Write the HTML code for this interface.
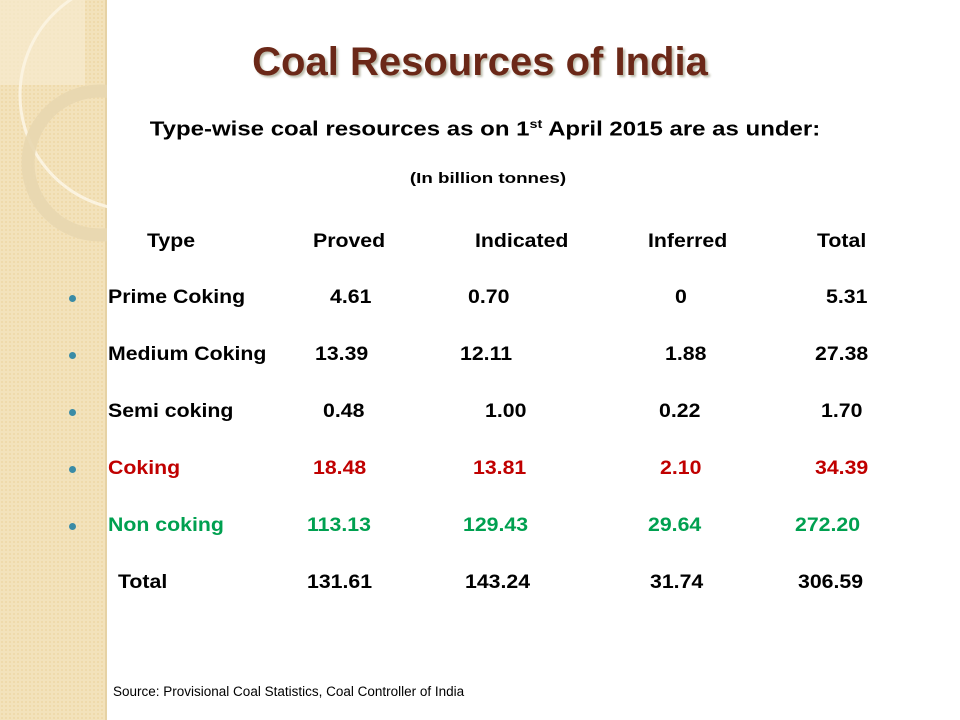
<!DOCTYPE html>
<html><head><meta charset="utf-8">
<style>
body{margin:0;width:960px;height:720px;overflow:hidden;background:#fff;font-family:"Liberation Sans",Arial,sans-serif;position:relative}
.band{position:absolute;left:0;top:0;width:105px;height:720px;background:#f3e2bb;
background-image:radial-gradient(#efd9aa 1px,transparent 1.2px);background-size:4px 4px;border-right:2px solid #e6d2a4}
.t{position:absolute;font-weight:bold;font-size:19px;color:#000;white-space:nowrap;line-height:20px;transform:scaleX(1.12);transform-origin:left center}
.r{color:#c00000}.g{color:#00a050}
.bul{position:absolute;left:69px;width:7px;height:7px;border-radius:50%;background:#3a8ba6}
</style></head><body>
<div class="band"></div>
<svg style="position:absolute;left:0;top:0" width="107" height="720">
<rect x="0" y="0" width="85" height="85" fill="#f7ebce" opacity="0.7"/>
<circle cx="135" cy="95" r="115" fill="none" stroke="#fbf3e0" stroke-width="3"/>
<circle cx="100" cy="163" r="72" fill="none" stroke="#e8d7b0" stroke-width="13" opacity="0.9"/>
</svg>
<div style="position:absolute;left:0;width:960px;top:40px;text-align:center;font-size:40px;font-weight:bold;color:#6b2818;text-shadow:2px 2px 2px #bba;">Coal Resources of India</div>
<div style="position:absolute;left:0;width:970px;top:117px;text-align:center;font-size:20px;font-weight:bold;transform:scaleX(1.2);transform-origin:485px 0">Type-wise coal resources as on 1<sup style="font-size:12px">st</sup> April 2015 are as under:</div>
<div style="position:absolute;left:0;width:976px;top:170px;text-align:center;font-size:15px;font-weight:bold;transform:scaleX(1.25);transform-origin:488px 0">(In billion tonnes)</div>

<div>
<div class="t" style="left:147px;top:232px">Type</div>
<div class="t" style="left:313px;top:232px">Proved</div>
<div class="t" style="left:475px;top:232px">Indicated</div>
<div class="t" style="left:648px;top:232px">Inferred</div>
<div class="t" style="left:817px;top:232px">Total</div>
</div>

<div>
<div class="bul" style="top:295px"></div>
<div class="t" style="left:108px;top:288px">Prime Coking</div>
<div class="t" style="left:330px;top:288px">4.61</div>
<div class="t" style="left:468px;top:288px">0.70</div>
<div class="t" style="left:675px;top:288px">0</div>
<div class="t" style="left:826px;top:288px">5.31</div>
</div>
<div>
<div class="bul" style="top:352px"></div>
<div class="t" style="left:108px;top:345px">Medium Coking</div>
<div class="t" style="left:315px;top:345px">13.39</div>
<div class="t" style="left:460px;top:345px">12.11</div>
<div class="t" style="left:665px;top:345px">1.88</div>
<div class="t" style="left:815px;top:345px">27.38</div>
</div>
<div>
<div class="bul" style="top:409px"></div>
<div class="t" style="left:108px;top:402px">Semi coking</div>
<div class="t" style="left:323px;top:402px">0.48</div>
<div class="t" style="left:485px;top:402px">1.00</div>
<div class="t" style="left:659px;top:402px">0.22</div>
<div class="t" style="left:821px;top:402px">1.70</div>
</div>
<div>
<div class="bul" style="top:466px"></div>
<div class="t r" style="left:108px;top:459px">Coking</div>
<div class="t r" style="left:313px;top:459px">18.48</div>
<div class="t r" style="left:473px;top:459px">13.81</div>
<div class="t r" style="left:660px;top:459px">2.10</div>
<div class="t r" style="left:815px;top:459px">34.39</div>
</div>
<div>
<div class="bul" style="top:523px"></div>
<div class="t g" style="left:108px;top:516px">Non coking</div>
<div class="t g" style="left:307px;top:516px">113.13</div>
<div class="t g" style="left:463px;top:516px">129.43</div>
<div class="t g" style="left:648px;top:516px">29.64</div>
<div class="t g" style="left:795px;top:516px">272.20</div>
</div>
<div>
<div class="t" style="left:118px;top:573px">Total</div>
<div class="t" style="left:307px;top:573px">131.61</div>
<div class="t" style="left:465px;top:573px">143.24</div>
<div class="t" style="left:650px;top:573px">31.74</div>
<div class="t" style="left:798px;top:573px">306.59</div>
</div>

<div style="position:absolute;left:113px;top:684px;font-size:13.5px;font-family:'Liberation Sans',sans-serif">Source: Provisional Coal Statistics, Coal Controller of India</div>
</body></html>
